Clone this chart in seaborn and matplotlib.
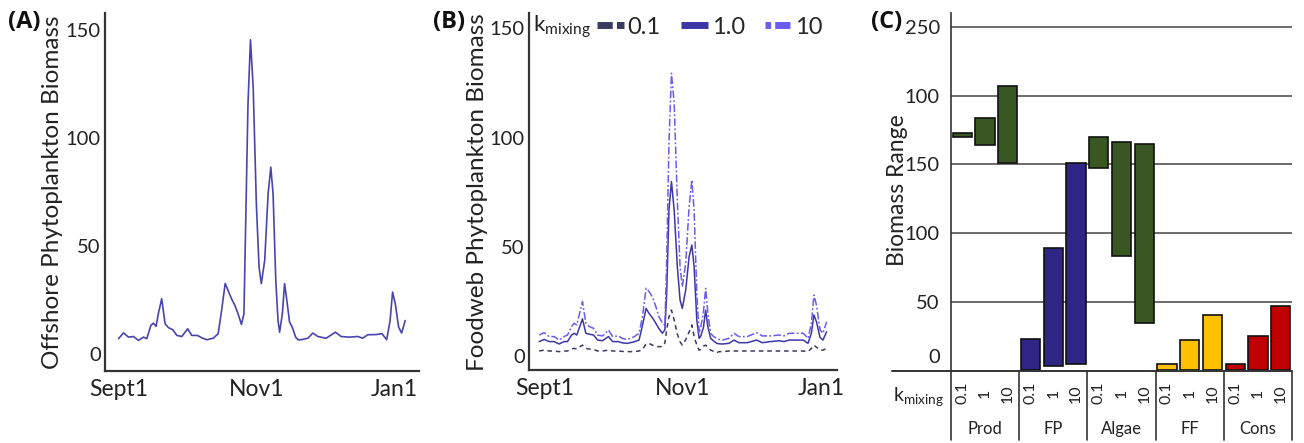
import numpy as np
import pandas as pd
import matplotlib
matplotlib.use("Agg")
import matplotlib.pyplot as plt
import matplotlib.transforms as mtransforms
from matplotlib.lines import Line2D
import seaborn as sns

sns.set_style("white")
plt.rcParams['font.family'] = ['Lato', 'DejaVu Sans']

# ---------------- data ----------------
days = [0, 2.2, 4.4, 6.6, 8.8, 11, 12.5, 14.3, 15.4, 16.6, 17.6, 19.1, 20.6, 22.1, 24,
        25.8, 28, 30.6, 32.4, 34.9, 36.8, 39, 41.9, 44.1, 45.6, 47.2, 48.5, 50, 51.5, 52.9,
        54.4, 55.5, 56.3, 57.3, 58.4, 59.6, 61, 62.2, 63.2, 64.7, 66.2, 67.4, 68.4, 69.6, 70.6,
        71.3, 72.5, 73.5, 74.5, 75.7, 76.9, 78.4, 79.4, 80.9, 83.8, 86, 88.2, 91.9, 96, 98.5,
        102.2, 105.9, 108.1, 110.3, 114, 116.6, 118.7, 120.2, 121.3, 122.5, 124, 125.3, 126.9]
offshore = [7.0, 9.7, 7.7, 8.0, 6.2, 7.7, 7.0, 13.1, 14.2, 12.7, 18.5, 25.5, 13.9, 12.1, 11.1,
            8.5, 8.0, 11.6, 8.5, 8.5, 7.4, 6.5, 7.2, 9.3, 20, 32.6, 29.3, 25.5, 22.4, 18.5,
            13.6, 18.5, 61.8, 115.9, 145.6, 123.6, 69.5, 40.1, 32.5, 43.3, 74.2, 86.5, 74.2, 34, 15.4,
            10, 18.5, 32.5, 24.7, 14.7, 12.3, 7.7, 6.5, 6.5, 7.2, 9.6, 8.0, 7.2, 10, 8.0,
            7.7, 8.0, 7.2, 8.8, 8.9, 9.3, 6.5, 15.4, 28.6, 23.2, 12.3, 9.6, 15.4]
fw_k01 = [2.3, 2.7, 2.3, 2.3, 2.0, 2.3, 2.3, 3.2, 3.5, 3.2, 4.0, 5.0, 3.5, 3.2, 3.0,
          2.3, 2.3, 2.7, 2.3, 2.3, 2.1, 2.0, 2.0, 2.3, 3.0, 5.5, 5.8, 5.0, 4.3, 4.3,
          4.3, 6.0, 12, 18, 21, 16.5, 10, 6.5, 5.0, 7.5, 11, 14.2, 9.0, 5.0, 2.7,
          3.0, 4.5, 5.0, 3.8, 2.7, 2.2, 1.5, 2.0, 2.0, 2.3, 2.3, 2.3, 2.3, 2.3, 2.3,
          2.3, 2.3, 2.3, 2.3, 2.3, 2.3, 2.0, 3.5, 5.0, 4.0, 2.7, 2.7, 3.5]
fw_k1 = [6.6, 7.6, 6.6, 6.6, 5.5, 6.6, 6.6, 9.6, 10.4, 9.6, 12.5, 17, 10.4, 10, 9.6,
         7.3, 7.0, 8.9, 6.6, 6.6, 6.0, 5.8, 6.5, 7.3, 14, 21.8, 19.5, 17.5, 15, 12.5,
         10.4, 12, 28.7, 66.8, 79.8, 66.8, 40.9, 25.6, 21.8, 30.2, 45.5, 50.8, 40.9, 16.5, 8.1,
         9, 13, 21, 13.4, 8.1, 7.0, 5.8, 5.6, 5.5, 5.8, 7.3, 6.1, 6.1, 7.3, 6.1,
         6.6, 7.0, 6.6, 7.3, 7.3, 7.3, 5.8, 10.5, 18.8, 15.5, 8.5, 7.3, 11.1]
fw_k10 = [9.6, 10.7, 8.9, 8.9, 7.3, 8.9, 9.6, 13.5, 15, 14.2, 18.5, 24.9, 15, 13.5, 12.7,
          9.6, 9.2, 11.9, 8.9, 9.2, 8.0, 7.6, 8.8, 10.4, 18, 31, 29.5, 27, 22.6, 18,
          15, 14, 44, 97.4, 129.4, 115.7, 71.4, 40.9, 31.7, 42.4, 68.4, 80.6, 66.8, 28.7, 10.4,
          13, 20, 31, 19.5, 10.4, 9.0, 8.1, 7.6, 7.3, 8.1, 10.4, 8.9, 8.9, 10.7, 9.2,
          9.2, 9.6, 9.2, 10.4, 10.4, 10.4, 8.1, 15, 27.9, 23, 12, 10.4, 15.7]
date_ticks = [0, 61, 122]
date_labels = ["Sept1", "Nov1", "Jan1"]

groups = ["Prod", "FP", "Algae", "FF", "Cons"]
kmix = ["0.1", "1", "10"]
range_low = [170, 164, 150.7, 0.5, 3.4, 5.3, 147.3, 83.6, 35, 0.5, 0.5, 0.5, 0.5, 0.5, 0.5]
range_high = [173, 184, 206.8, 23.4, 89.6, 151.4, 169.6, 166.4, 164.7, 5.3, 22.7, 41, 5.3, 25.4, 46.9]
c_ticks = [0, 50, 100, 150, 200, 250]
c_ticklabels = ["0", "50", "100", "150", "100", "250"]
group_colors = ["#385723", "#2e2584", "#385723", "#ffc000", "#c00000"]

# ---------------- figure ----------------
W, H = 1304, 443
fig = plt.figure(figsize=(W / 100, H / 100), dpi=100)

def ax_px(left, right, top, bottom):
    return fig.add_axes([left / W, 1 - bottom / H, (right - left) / W, (bottom - top) / H])

TICK_FS = 14.5
LABEL_FS = 17.5
spine_col = "#333333"
txt_col = "#222222"

def style_ts(ax, tick_shift=0.0):
    for s in ["top", "right"]:
        ax.spines[s].set_visible(False)
    for s in ["left", "bottom"]:
        ax.spines[s].set_color(spine_col)
        ax.spines[s].set_linewidth(1.6)
    ax.tick_params(length=0, labelsize=TICK_FS, colors=txt_col, pad=3)
    ax.set_yticks([0, 50, 100, 150])
    ax.set_xticks([t + tick_shift for t in date_ticks])
    ax.set_xticklabels(date_labels, fontsize=16.5)
    ax.tick_params(axis="x", pad=6)
    ax.set_xlabel("")
    ax.set_ylabel("")
    ax.grid(False)

def panel_letter(x, s):
    fig.text(x / W, 1 - 22 / H, s, fontsize=17, fontweight="bold", va="center", ha="left",
             family=["Open Sans", "DejaVu Sans"], color="#111111")

# Panel A
axA = ax_px(105, 419, 13, 371)
dfA = pd.DataFrame({"day": days, "biomass": offshore})
sns.lineplot(data=dfA, x="day", y="biomass", ax=axA, color="#4a44b0", linewidth=1.2,
             solid_joinstyle="round")
axA.set_xlim(-6, 133)
axA.set_ylim(-8, 158)
style_ts(axA)
fig.text(53 / W, 1 - 192 / H, "Offshore Phytoplankton Biomass", rotation=90,
         ha="center", va="center", fontsize=LABEL_FS, color=txt_col)
panel_letter(8, "(A)")

# Panel B
axB = ax_px(529, 837, 13, 370)
dfB = pd.DataFrame({
    "day": days * 3,
    "biomass": fw_k01 + fw_k1 + fw_k10,
    "k": ["0.1"] * len(days) + ["1.0"] * len(days) + ["10"] * len(days),
})
pal = {"0.1": "#3b3a60", "1.0": "#3d37a6", "10": "#6a5cf0"}
styles = {"0.1": (0, (3, 2.5)), "1.0": "-", "10": (0, (5, 1.5, 1.2, 1.5))}
for k in ["0.1", "1.0", "10"]:
    sns.lineplot(data=dfB[dfB.k == k], x="day", y="biomass", ax=axB, color=pal[k],
                 linewidth=1.1, linestyle=styles[k], legend=False)
shiftB = 2.5
axB.set_xlim(-7 + shiftB, 129 + shiftB)
axB.set_ylim(-6.4, 157)
style_ts(axB, tick_shift=shiftB)
leg_styles = {"0.1": (0, (2.2, 0.6)), "1.0": "-", "10": (0, (0.8, 0.6, 2.2, 0.6))}
proxies = [Line2D([], [], color=pal[k], linestyle=leg_styles[k], linewidth=5,
                  solid_capstyle="butt", dash_capstyle="butt") for k in ["0.1", "1.0", "10"]]
axB.legend(proxies, ["0.1", "1.0", "10"], ncol=3, frameon=False, loc="center left",
           bbox_to_anchor=((597 - 529) / 308, 1 - (27 - 13) / 357),
           fontsize=17, handlelength=1.15, handletextpad=0.15, columnspacing=0.85,
           borderaxespad=0, borderpad=0)
fig.text(533 / W, 1 - 27 / H, r"k$_{\mathregular{mixing}}$", fontsize=16, va="center",
         ha="left", color=txt_col)
fig.text(478 / W, 1 - 192 / H, "Foodweb Phytoplankton Biomass", rotation=90,
         ha="center", va="center", fontsize=LABEL_FS, color=txt_col)
panel_letter(433, "(B)")

# Panel C
axC = ax_px(951, 1292, 13, 371)
labelsC = [f"{g}\n{k}" for g in groups for k in kmix]
dfC = pd.DataFrame({
    "bar": labelsC,
    "group": [g for g in groups for _ in kmix],
    "height": [hi - lo for hi, lo in zip(range_high, range_low)],
})
palC = dict(zip(groups, group_colors))
sns.barplot(data=dfC, x="bar", y="height", hue="group", palette=palC, dodge=False,
            width=0.85, edgecolor="#111111", linewidth=1.2, legend=False, ax=axC,
            saturation=1, order=labelsC, hue_order=groups, zorder=3)
for p, lo in zip(axC.patches, range_low):
    p.set_y(lo)
axC.set_xlim(-0.5, 14.5)
axC.set_ylim(0, 260)
axC.set_xticks([])
axC.set_xlabel("")
axC.set_ylabel("")
axC.set_yticks(c_ticks)
axC.set_yticklabels(c_ticklabels)
axC.tick_params(axis="y", length=0, labelsize=TICK_FS, colors=txt_col, pad=8)
for s in ["top", "right", "bottom"]:
    axC.spines[s].set_visible(False)
axC.spines["left"].set_color(spine_col)
axC.spines["left"].set_linewidth(1.2)
for yv in c_ticks[1:]:
    axC.axhline(yv, color="#444444", linewidth=1.1, zorder=1)
# raise the "0" label slightly as in the reference
lab0 = axC.get_yticklabels()[0]
lab0.set_transform(lab0.get_transform() +
                   mtransforms.ScaledTranslation(0, 15 / 100, fig.dpi_scale_trans))
trans = mtransforms.blended_transform_factory(axC.transData, axC.transAxes)
axC.plot([-3.1, 14.5], [0, 0], transform=trans, color=spine_col, linewidth=1.4,
         clip_on=False, zorder=4)
ybot = -(440 - 371) / 358
for xb in [-0.5, 2.5, 5.5, 8.5, 11.5, 14.5]:
    axC.plot([xb, xb], [0, ybot], transform=trans, color=spine_col, linewidth=1.2,
             clip_on=False)
for i, lab in enumerate(labelsC):
    k = lab.split("\n")[1]
    axC.text(i, -0.062, k, rotation=90, ha="center", va="center", fontsize=11.5,
             transform=trans, color=txt_col)
for gi, g in enumerate(groups):
    axC.text(gi * 3 + 1, -0.162, g, ha="center", va="center", fontsize=12,
             transform=trans, color=txt_col)
axC.text(-1.95, -0.074, r"k$_{\mathregular{mixing}}$", ha="center", va="center",
         fontsize=14, transform=trans, color=txt_col)
fig.text(897 / W, 1 - 190 / H, "Biomass Range", rotation=90, ha="center", va="center",
         fontsize=16.5, color=txt_col)
panel_letter(871, "(C)")

fig.savefig("out.png", dpi=100)
